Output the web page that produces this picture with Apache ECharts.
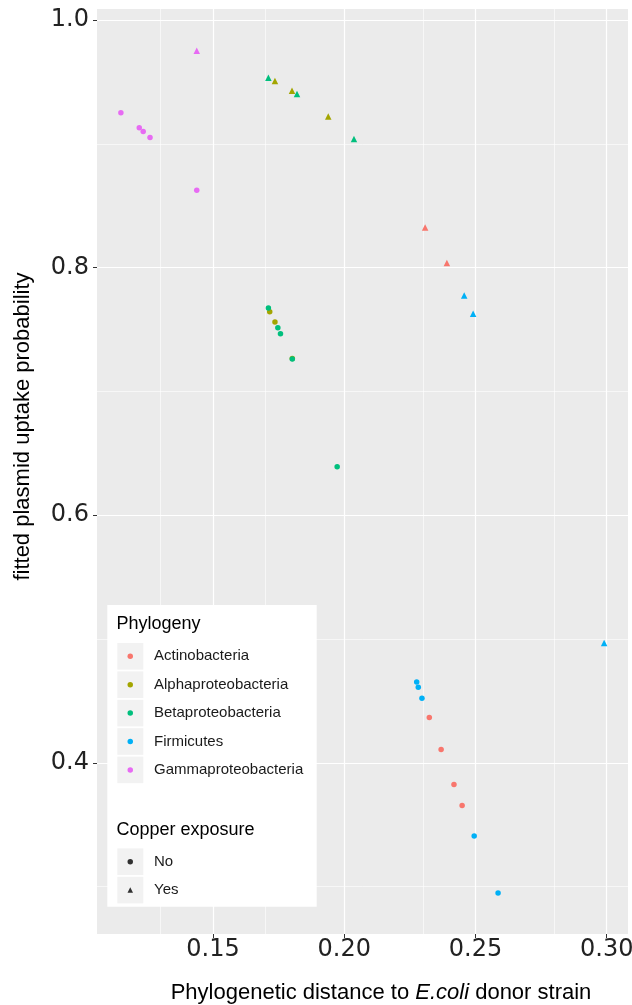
<!DOCTYPE html>
<html>
<head>
<meta charset="utf-8">
<script src="https://cdn.jsdelivr.net/npm/echarts@6/dist/echarts.min.js"></script>
<style>
  html, body { margin: 0; padding: 0; background: #fff; }
  #chart { width: 632px; height: 1005px; }
</style>
</head>
<body>
<div id="chart"></div>
<script>
// points: [distance, fitted probability, copper exposure]
const actinobacteria = [
  [0.2308, 0.8323, 'Yes'], [0.2391, 0.8037, 'Yes'],
  [0.2324, 0.4366, 'No'], [0.2369, 0.4107, 'No'], [0.2418, 0.3824, 'No'], [0.2449, 0.3654, 'No']
];
const alphaproteobacteria = [
  [0.1736, 0.9507, 'Yes'], [0.1801, 0.9428, 'Yes'], [0.1939, 0.9221, 'Yes'],
  [0.1716, 0.7644, 'No'], [0.1736, 0.7560, 'No'], [0.1802, 0.7266, 'No']
];
const betaproteobacteria = [
  [0.1711, 0.9533, 'Yes'], [0.1820, 0.9402, 'Yes'], [0.2037, 0.9038, 'Yes'],
  [0.1711, 0.7673, 'No'], [0.1747, 0.7515, 'No'], [0.1757, 0.7466, 'No'],
  [0.1802, 0.7262, 'No'], [0.1973, 0.6391, 'No']
];
const firmicutes = [
  [0.2457, 0.7774, 'Yes'], [0.2491, 0.7628, 'Yes'], [0.2990, 0.4967, 'Yes'],
  [0.2276, 0.4652, 'No'], [0.2282, 0.4611, 'No'], [0.2296, 0.4522, 'No'],
  [0.2495, 0.3409, 'No'], [0.2586, 0.2948, 'No']
];
const gammaproteobacteria = [
  [0.1438, 0.9752, 'Yes'],
  [0.1149, 0.9250, 'No'], [0.1219, 0.9129, 'No'], [0.1234, 0.9100, 'No'],
  [0.1260, 0.9051, 'No'], [0.1438, 0.8625, 'No']
];

const phyla = ['Actinobacteria', 'Alphaproteobacteria', 'Betaproteobacteria', 'Firmicutes', 'Gammaproteobacteria'];
const phylaData = [actinobacteria, alphaproteobacteria, betaproteobacteria, firmicutes, gammaproteobacteria];
const exposure = ['No', 'Yes'];

const xTicks = [0.15, 0.20, 0.25, 0.30];
const xMinor = [0.125, 0.175, 0.225, 0.275];
const yTicks = [0.4, 0.6, 0.8, 1.0];
const yMinor = [0.3, 0.5, 0.7, 0.9];

const palette = ['#F8766D', '#A3A500', '#00BF7D', '#00B0F6', '#E76BF3'];
const titleFont = '"Liberation Sans", Arial, sans-serif';
const tickFont = '"DejaVu Sans", Verdana, sans-serif';

const chart = echarts.init(document.getElementById('chart'), null, { renderer: 'canvas' });

// white panel grid lines, drawn through the axes as mark lines
function gridLines() {
  const major = { color: '#ffffff', width: 1.2, type: 'solid' };
  const minor = { color: '#ffffff', width: 0.6, type: 'solid' };
  return []
    .concat(xMinor.map(v => ({ xAxis: v, lineStyle: minor })))
    .concat(yMinor.map(v => ({ yAxis: v, lineStyle: minor })))
    .concat(xTicks.map(v => ({ xAxis: v, lineStyle: major })))
    .concat(yTicks.map(v => ({ yAxis: v, lineStyle: major })));
}

const series = [{
  name: 'grid',
  type: 'scatter',
  data: [],
  z: 1,
  silent: true,
  markLine: {
    z: 1,
    silent: true,
    symbol: 'none',
    label: { show: false },
    emphasis: { disabled: true },
    animation: false,
    data: gridLines()
  }
}];

phyla.forEach((name, i) => {
  series.push({
    name: name,
    type: 'scatter',
    z: 2,
    data: phylaData[i],
    symbol: (val) => val[2] === 'Yes' ? 'triangle' : 'circle',
    symbolSize: (val) => val[2] === 'Yes' ? 6.5 : 5.5,
    itemStyle: { color: palette[i], opacity: 1 }
  });
});
exposure.forEach(name => {
  series.push({ name: name, type: 'scatter', data: [], itemStyle: { color: '#000' } });
});

// legend keys (grey squares) and box
const keyStep = 28.4;
const phylaTop = 656.3;
const copperTop = 861.7;
const legendGraphics = [{
  type: 'rect', z: 3, z2: 0,
  shape: { x: 107.3, y: 605, width: 209.4, height: 301.7 },
  style: { fill: '#ffffff' }
}];
phyla.forEach((n, i) => legendGraphics.push({
  type: 'rect', z: 3, z2: 1,
  shape: { x: 117.3, y: phylaTop + i * keyStep - 13.3, width: 26, height: 26.6 },
  style: { fill: '#f2f2f2' }
}));
exposure.forEach((n, i) => legendGraphics.push({
  type: 'rect', z: 3, z2: 1,
  shape: { x: 117.3, y: copperTop + i * keyStep - 13.3, width: 26, height: 26.6 },
  style: { fill: '#f2f2f2' }
}));

const legendText = { fontSize: 15, fontFamily: titleFont, color: '#1a1a1a', lineHeight: 16, padding: [0, 0, 0, 16] };

const option = {
  animation: false,
  backgroundColor: '#ffffff',
  title: [
    { text: 'Phylogeny', left: 116.5, top: 614.8, padding: 0,
      textStyle: { fontSize: 18, fontWeight: 'normal', fontFamily: titleFont, color: '#000' } },
    { text: 'Copper exposure', left: 116.5, top: 821.5, padding: 0,
      textStyle: { fontSize: 18, fontWeight: 'normal', fontFamily: titleFont, color: '#000' } }
  ],
  legend: [{
    data: phyla.map(n => ({ name: n, icon: 'circle' })),
    orient: 'vertical',
    left: 127.5, top: phylaTop - 8,
    padding: 0,
    itemWidth: 5.5, itemHeight: 5.5,
    itemGap: keyStep - 16,
    selectedMode: false,
    textStyle: legendText
  }, {
    data: [{ name: 'No', icon: 'circle' }, { name: 'Yes', icon: 'triangle' }],
    orient: 'vertical',
    left: 127.5, top: copperTop - 8,
    padding: 0,
    itemWidth: 5.5, itemHeight: 5.5,
    itemGap: keyStep - 16,
    selectedMode: false,
    textStyle: legendText
  }],
  graphic: legendGraphics,
  grid: {
    left: 97, top: 9, right: 4, bottom: 71,
    outerBoundsMode: 'none',
    containLabel: false,
    show: true, backgroundColor: '#ebebeb', borderWidth: 0
  },
  xAxis: {
    type: 'value',
    min: 0.1058, max: 0.3081,
    name: '{a|Phylogenetic distance to }{i|E.coli}{a| donor strain}',
    nameLocation: 'middle',
    nameGap: 48,
    nameTextStyle: {
      padding: [0, 0, 0, 37],
      rich: {
        a: { fontSize: 22, fontFamily: titleFont, color: '#000' },
        i: { fontSize: 22, fontFamily: titleFont, fontStyle: 'italic', color: '#000' }
      }
    },
    axisLine: { show: false },
    splitLine: { show: false },
    axisTick: { show: true, customValues: xTicks, length: 4, lineStyle: { color: '#333' } },
    axisLabel: {
      customValues: xTicks, margin: 4,
      fontSize: 24, fontFamily: tickFont, color: '#222',
      formatter: v => v.toFixed(2)
    }
  },
  yAxis: {
    type: 'value',
    min: 0.2617, max: 1.0089,
    name: 'fitted plasmid uptake probability',
    nameLocation: 'middle',
    nameGap: 63,
    nameTextStyle: { fontSize: 22, fontFamily: titleFont, color: '#000', padding: [0, 0, 0, 90] },
    axisLine: { show: false },
    splitLine: { show: false },
    axisTick: { show: true, customValues: yTicks, length: 4, lineStyle: { color: '#333' } },
    axisLabel: {
      customValues: yTicks, margin: 8,
      fontSize: 24, fontFamily: tickFont, color: '#222',
      formatter: v => v.toFixed(1)
    }
  },
  series: series
};

chart.setOption(option);
</script>
</body>
</html>
